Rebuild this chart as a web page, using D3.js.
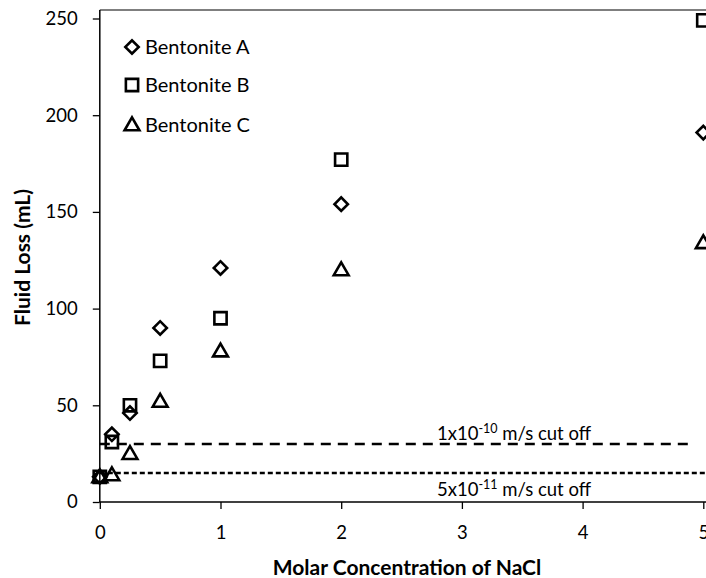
<!DOCTYPE html>
<html>
<head>
<meta charset="utf-8">
<script src="https://cdn.jsdelivr.net/npm/d3@7"></script>
<style>
  html, body { margin: 0; padding: 0; background: #fff; }
  svg { display: block; }
  text { font-family: Lato, "Open Sans", sans-serif; fill: #000; }
</style>
</head>
<body>
<svg id="chart" width="706" height="578"></svg>
<script>
// ---- data ----
const concentrations = [0, 0.1, 0.25, 0.5, 1, 2, 5];
const bentoniteA = [13, 35, 46, 90, 121, 154, 191];
const bentoniteB = [13, 31, 50, 73, 95, 177, 249];
const bentoniteC = [13, 14, 25, 52, 78, 120, 134];
const seriesNames = ["Bentonite A", "Bentonite B", "Bentonite C"];
const seriesSymbols = ["diamond", "square", "triangle"];
const xTicks = [0, 1, 2, 3, 4, 5];
const yTicks = [0, 50, 100, 150, 200, 250];
const cutoffValues = [30, 15];
const cutoffMantissa = ["1x10", "5x10"];
const cutoffExponent = ["-10", "-11"];
const cutoffSuffix = " m/s cut off";

const svg = d3.select("#chart");
const x = d3.scaleLinear().domain([0, 5]).range([99.8, 703.3]);
const y = d3.scaleLinear().domain([0, 250]).range([502, 18.5]);
const plotTop = 10, plotRight = 706;

// frame: top line
svg.append("line").attr("x1", x(0)).attr("x2", plotRight)
  .attr("y1", plotTop).attr("y2", plotTop)
  .attr("stroke", "#000").attr("stroke-width", 1.2);

// y axis
const yAxis = svg.append("g").attr("transform", `translate(${x(0)},0)`)
  .call(d3.axisLeft(y).tickValues(yTicks).tickSize(7).tickPadding(15).tickFormat(d3.format("d")));
yAxis.select(".domain").attr("d", `M0,${plotTop}V${y(0)}`);
// x axis
const xAxis = svg.append("g").attr("transform", `translate(0,${y(0)})`)
  .call(d3.axisBottom(x).tickValues(xTicks).tickSize(7).tickPadding(17).tickFormat(d3.format("d")));
xAxis.select(".domain").attr("d", `M${x(0)},0H${plotRight}`);
[yAxis, xAxis].forEach(g => {
  g.selectAll(".domain").attr("stroke", "#000").attr("stroke-width", 1.5);
  g.selectAll(".tick line").attr("stroke", "#000").attr("stroke-width", 1.3);
  g.selectAll(".tick text").style("font-size", "18.5px").style("font-family", "Lato, sans-serif");
});

// axis titles
svg.append("text").attr("x", 407).attr("y", 575)
  .attr("text-anchor", "middle").style("font-size", "21px").style("font-weight", "bold")
  .text("Molar Concentration of NaCl");
svg.append("text").attr("transform", `translate(30,257.5) rotate(-90)`)
  .attr("text-anchor", "middle").style("font-size", "21px").style("font-weight", "bold")
  .text("Fluid Loss (mL)");

// cutoff lines
const dashes = ["10,7", "5,3"];
cutoffValues.forEach((v, i) => {
  svg.append("line").attr("x1", x(0)).attr("x2", i === 0 ? 692 : plotRight)
    .attr("y1", y(v)).attr("y2", y(v))
    .attr("stroke", "#000").attr("stroke-width", 2.4)
    .attr("stroke-dasharray", dashes[i]);
});
// cutoff labels
const labelY = [y(cutoffValues[0]) - 4, y(cutoffValues[1]) + 23];
cutoffValues.forEach((v, i) => {
  const t = svg.append("text").attr("x", 437).attr("y", labelY[i]).style("font-size", "18.5px");
  t.append("tspan").text(cutoffMantissa[i]);
  t.append("tspan").attr("dy", -7).style("font-size", "12.5px").text(cutoffExponent[i]);
  t.append("tspan").attr("dy", 7).text(cutoffSuffix);
});

// symbols
function symbolPath(kind) {
  if (kind === "diamond") return d3.symbol(d3.symbolSquare, 90)();
  if (kind === "square") return d3.symbol(d3.symbolSquare, 150)();
  return d3.symbol(d3.symbolTriangle, 95)();
}
function symbolTransform(kind, cx, cy) {
  if (kind === "diamond") return `translate(${cx},${cy}) rotate(45)`;
  if (kind === "triangle") return `translate(${cx},${cy + 1})`;
  return `translate(${cx},${cy})`;
}
const allSeries = [bentoniteA, bentoniteB, bentoniteC];
allSeries.forEach((vals, si) => {
  const kind = seriesSymbols[si];
  svg.append("g").selectAll("path").data(vals).join("path")
    .attr("d", symbolPath(kind))
    .attr("transform", (d, i) => symbolTransform(kind, x(concentrations[i]), y(d)))
    .attr("fill", "none").attr("stroke", "#000").attr("stroke-width", 2.6);
});

// legend
const legendY = [47, 85, 125];
seriesNames.forEach((name, i) => {
  const kind = seriesSymbols[i];
  svg.append("path").attr("d", symbolPath(kind))
    .attr("transform", symbolTransform(kind, 132, legendY[i]))
    .attr("fill", "none").attr("stroke", "#000").attr("stroke-width", 2.6);
  svg.append("text").attr("x", 145).attr("y", legendY[i] + 7)
    .style("font-size", "20px").text(name);
});
</script>
</body>
</html>
